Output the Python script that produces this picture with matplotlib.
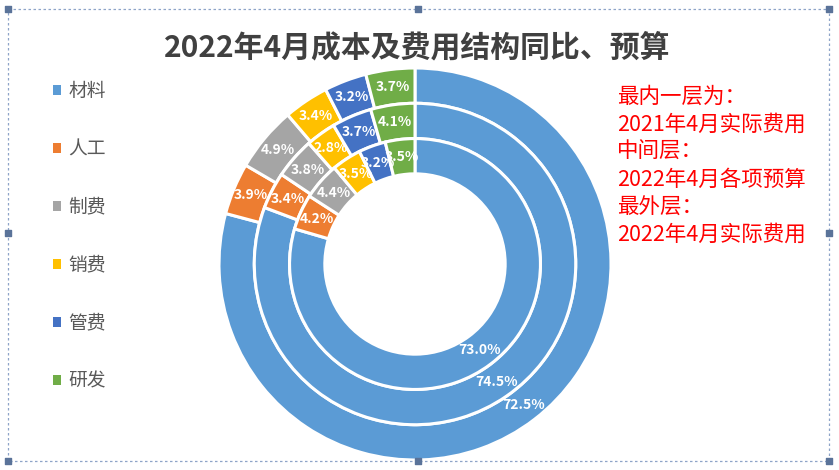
# plot.py

import matplotlib as mpl
import matplotlib.pyplot as plt
from matplotlib.patches import Rectangle

mpl.use('Agg')
plt.rcParams['font.family'] = ['Noto Sans CJK SC', 'DejaVu Sans']

# data
items = ['材料', '人工', '制费', '销费', '管费', '研发']
inner_2021 = [73.0, 4.2, 4.4, 3.5, 3.2, 3.5]     # 2021年4月实际费用
middle_budget = [74.5, 3.4, 3.8, 2.8, 3.7, 4.1]  # 2022年4月各项预算
outer_2022 = [72.5, 3.9, 4.9, 3.4, 3.2, 3.7]     # 2022年4月实际费用
colors = ['#5B9BD5', '#ED7D31', '#A5A5A5', '#FFC000', '#4472C4', '#70AD47']

title = '2022年4月成本及费用结构同比、预算'
note = ('最内一层为：\n2021年4月实际费用\n中间层：\n2022年4月各项预算\n'
        '最外层：\n2022年4月实际费用')

W, H = 839, 470
fig = plt.figure(figsize=(W / 100, H / 100), dpi=100)

# donut axes: centre (415, 264) px, outer radius ~196 px
cx, cy, rad = 415, 264, 196
ax = fig.add_axes([(cx - rad) / W, (H - cy - rad) / H, 2 * rad / W, 2 * rad / H])

ring_w = 0.18
outer_wedges = None
for vals, r in [(outer_2022, 1.0), (middle_budget, 1.0 - ring_w), (inner_2021, 1.0 - 2 * ring_w)]:
    wedges, texts, autotexts = ax.pie(
        vals, radius=r, colors=colors, startangle=90, counterclock=False,
        wedgeprops=dict(width=ring_w, edgecolor='white', linewidth=2.2),
        autopct='%1.1f', pctdistance=(r - ring_w / 2) / r,
        textprops=dict(color='white', fontsize=10, fontweight='bold'))
    for t, v in zip(autotexts, vals):
        t.set_text(f'{v:.1f}%')
    if outer_wedges is None:
        outer_wedges = wedges
ax.set_xlim(-1, 1)
ax.set_ylim(-1, 1)
ax.set_aspect('equal')

fig.text(417 / W, 1 - 47 / H, title, ha='center', va='center',
         fontsize=21.5, fontweight='bold', color='#404040')

fig.text(617 / W, 1 - 86 / H, note, ha='left', va='top',
         fontsize=15.5, color='#FF0000', linespacing=1.33)

leg = fig.legend(outer_wedges, items, loc='upper left',
                 bbox_to_anchor=(36 / W, 1 - 64 / H), frameon=False,
                 fontsize=13.5, labelspacing=1.97, handlelength=0.42,
                 handleheight=0.42, handletextpad=0.4, labelcolor='#595959')
for h in leg.legend_handles:
    h.set_linewidth(0)

# chart frame with selection handles
ov = fig.add_axes([0, 0, 1, 1], facecolor='none')
ov.set_xlim(0, W)
ov.set_ylim(H, 0)
ov.axis('off')
ov.add_patch(Rectangle((8, 9), 821, 452, fill=False, edgecolor='#8EA4C8',
                       linestyle=(0, (2, 2)), linewidth=0.9))
hx = [8, 418, 829, 8, 829, 8, 418, 829]
hy = [9, 9, 9, 233, 233, 461, 461, 461]
ov.scatter(hx, hy, marker='s', s=14, color='#5A7399', zorder=3)

fig.savefig('out.png', dpi=100)
